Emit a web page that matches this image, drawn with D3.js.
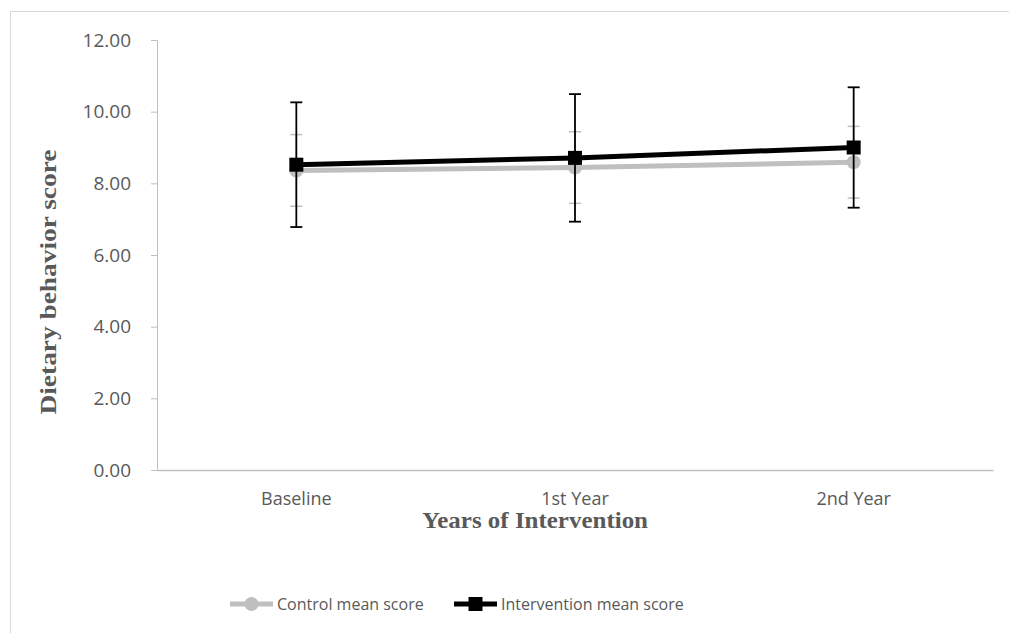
<!DOCTYPE html>
<html>
<head>
    <meta charset="utf-8">
    <title>Dietary behavior score</title>
    <script src="https://d3js.org/d3.v7.min.js"></script>
    <style>
        body, html {
            margin: 0;
            background: #ffffff;
            overflow: hidden;
        }
        .tick text {
            font-family: "Open Sans", "Liberation Sans", sans-serif;
            font-size: 18px;
            fill: #595959;
        }
        .axis-title {
            font-family: "Liberation Serif", "DejaVu Serif", serif;
            font-weight: bold;
            font-size: 24px;
            fill: #595959;
        }
        .legend text {
            font-family: "Open Sans", "Liberation Sans", sans-serif;
            font-size: 16px;
            fill: #595959;
        }
    </style>
</head>
<body>
<div id="chart"></div>
<script>
    // data
    const categories = ["Baseline", "1st Year", "2nd Year"];
    const controlMean = [8.36, 8.44, 8.59];
    const controlSD = [1.00, 1.00, 1.00];
    const interventionMean = [8.52, 8.71, 9.00];
    const interventionSD = [1.74, 1.78, 1.68];
    const yTicks = [0, 2, 4, 6, 8, 10, 12];
    const seriesNames = ["Control mean score", "Intervention mean score"];

    const width = 1009, height = 633;
    const plotLeft = 157, plotRight = 993, plotTop = 40, plotBottom = 470;

    const svg = d3.select("#chart")
                  .append("svg")
                  .attr("width", width)
                  .attr("height", height);

    // chart frame
    svg.append("rect")
       .attr("x", 10.5)
       .attr("y", 11.5)
       .attr("width", 1020)
       .attr("height", 700)
       .attr("fill", "none")
       .attr("stroke", "#d9d9d9");

    const x = d3.scaleBand().domain(categories).range([plotLeft, plotRight]);
    const y = d3.scaleLinear().domain([0, 12]).range([plotBottom, plotTop]);

    // y axis
    const yAxis = svg.append("g")
                     .attr("transform", `translate(${plotLeft},0)`)
                     .call(d3.axisLeft(y).tickValues(yTicks).tickSize(6).tickPadding(20)
                                 .tickFormat(d3.format(".2f")));
    yAxis.select(".domain").attr("stroke", "#bfbfbf");
    yAxis.selectAll(".tick line").attr("stroke", "#bfbfbf");
    yAxis.selectAll(".tick text").style("font-size", "19px");

    // x axis
    const xAxis = svg.append("g")
                     .attr("transform", `translate(0,${plotBottom})`)
                     .call(d3.axisBottom(x).tickSize(0).tickPadding(22));
    xAxis.select(".domain").attr("stroke", "#bfbfbf").attr("stroke-width", 1.5);

    // axis titles
    svg.append("text")
       .attr("class", "axis-title")
       .attr("transform", "translate(50,282) rotate(-90)")
       .attr("text-anchor", "middle")
       .attr("dominant-baseline", "middle")
       .attr("textLength", 265)
       .attr("lengthAdjust", "spacingAndGlyphs")
       .text("Dietary behavior score");

    svg.append("text")
       .attr("class", "axis-title")
       .attr("x", 535)
       .attr("y", 528)
       .attr("text-anchor", "middle")
       .attr("textLength", 226)
       .attr("lengthAdjust", "spacingAndGlyphs")
       .text("Years of Intervention");

    const cx = d => x(d) + x.bandwidth() / 2;

    function drawErrorBars(means, sds, color, widthStroke) {
        const g = svg.append("g");
        categories.forEach((c, i) => {
            const hi = y(means[i] + sds[i]), lo = y(means[i] - sds[i]);
            g.append("line")
             .attr("x1", cx(c)).attr("x2", cx(c))
             .attr("y1", hi).attr("y2", lo)
             .attr("stroke", color).attr("stroke-width", widthStroke);
            [hi, lo].forEach(yy => {
                g.append("line")
                 .attr("x1", cx(c) - 6).attr("x2", cx(c) + 6)
                 .attr("y1", yy).attr("y2", yy)
                 .attr("stroke", color).attr("stroke-width", widthStroke);
            });
        });
    }

    const line = d3.line().x((d, i) => cx(categories[i])).y(d => y(d));

    // control series (gray, circles)
    drawErrorBars(controlMean, controlSD, "#bfbfbf", 1.5);
    svg.append("path")
       .datum(controlMean)
       .attr("d", line)
       .attr("fill", "none")
       .attr("stroke", "#bfbfbf")
       .attr("stroke-width", 5);
    svg.selectAll(".ctrl-dot")
       .data(controlMean)
       .join("circle")
       .attr("cx", (d, i) => cx(categories[i]))
       .attr("cy", d => y(d))
       .attr("r", 7)
       .attr("fill", "#bfbfbf");

    // intervention series (black, squares)
    drawErrorBars(interventionMean, interventionSD, "#000000", 1.8);
    svg.append("path")
       .datum(interventionMean)
       .attr("d", line)
       .attr("fill", "none")
       .attr("stroke", "#000000")
       .attr("stroke-width", 5);
    svg.selectAll(".int-dot")
       .data(interventionMean)
       .join("rect")
       .attr("x", (d, i) => cx(categories[i]) - 7)
       .attr("y", d => y(d) - 7)
       .attr("width", 14)
       .attr("height", 14)
       .attr("fill", "#000000");

    // legend
    const legend = svg.append("g").attr("class", "legend");
    const lc = legend.append("g").attr("transform", "translate(230,604)");
    lc.append("line").attr("x1", 0).attr("x2", 43).attr("stroke", "#bfbfbf").attr("stroke-width", 5);
    lc.append("circle").attr("cx", 21.5).attr("r", 7).attr("fill", "#bfbfbf");
    lc.append("text").attr("x", 47).attr("dy", "0.35em").text(seriesNames[0]);

    const li = legend.append("g").attr("transform", "translate(454,604)");
    li.append("line").attr("x1", 0).attr("x2", 43).attr("stroke", "#000000").attr("stroke-width", 5);
    li.append("rect").attr("x", 14.5).attr("y", -7).attr("width", 14).attr("height", 14).attr("fill", "#000000");
    li.append("text").attr("x", 47).attr("dy", "0.35em").text(seriesNames[1]);
</script>
</body>
</html>
